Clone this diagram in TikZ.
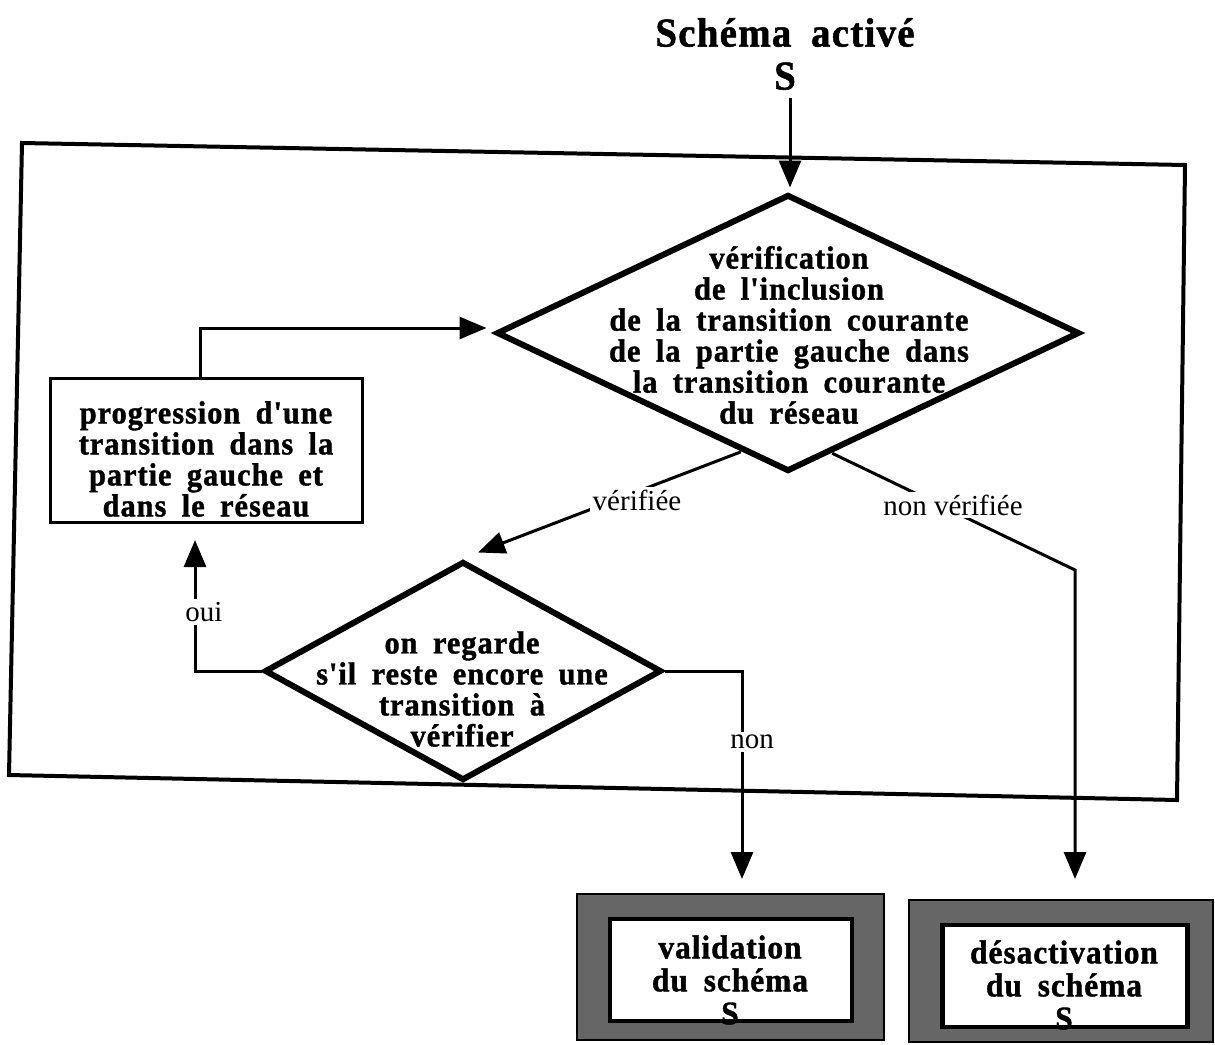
\documentclass[tikz,border=0pt]{standalone}
\usepackage{fontspec}
\setmainfont{Liberation Serif}
% tall, heavy, slightly tracked bold face for the box texts
\newfontfamily\diagfont[FakeStretch=0.95, FakeBold=1.2, LetterSpace=3, WordSpace=1.8]{Liberation Serif}
\usetikzlibrary{shapes.geometric,arrows.meta,calc}
\begin{document}
\begin{tikzpicture}[x=1pt,y=-1pt,
  boldtext/.style={font=\diagfont\bfseries\fontsize{32}{31}\selectfont, align=center, inner sep=0},
  lbl/.style={font=\fontsize{29}{31}\selectfont, inner sep=3pt, fill=white},
  conn/.style={line width=3pt, -{Triangle[length=27pt,width=22pt]}},
  decision/.style={diamond, draw, line width=6pt, inner sep=0},
  actionbox/.style={draw, line width=3pt, inner sep=0},
  endouter/.style={draw, line width=2pt, fill=black!60, inner sep=0},
  endinner/.style={draw, line width=4.5pt, fill=white, inner sep=0}
]
\useasboundingbox (0,0) rectangle (1215,1044);

% outer frame (slightly out of square)
\draw[line width=4pt, line join=miter] (22,143) -- (1185,165) -- (1177,800) -- (9,775) -- cycle;

% title
\node[boldtext, font=\diagfont\bfseries\fontsize{41}{43}\selectfont] (title) at (785,54) {Schéma activé\\S};

% main test
\node[decision, minimum width=583pt, minimum height=277pt] (bigd) at (788,333) {};
\node[boldtext] (bigtxt) at (789,335) {vérification\\de l'inclusion\\de la transition courante\\de la partie gauche dans\\la transition courante\\du réseau};

% progression box
\node[actionbox, minimum width=312pt, minimum height=144pt] (lbox) at (206,450) {};
\node[boldtext] (ltxt) at (206,459) {progression d'une\\transition dans la\\partie gauche et\\dans le réseau};

% remaining-transition test
\node[decision, minimum width=397pt, minimum height=219pt] (smalld) at (463,671) {};
\node[boldtext] (stxt) at (462,689) {on regarde\\s'il reste encore une\\transition à\\vérifier};

% terminal boxes
\node[endouter, minimum width=307pt, minimum height=146pt] (vout) at (730,967) {};
\node[endinner, minimum width=242pt, minimum height=102pt] (vbox) at (731,970) {};
\node[boldtext, font=\diagfont\bfseries\fontsize{33}{33}\selectfont] (vtxt) at (730,980) {validation\\du schéma\\S};

\node[endouter, minimum width=304pt, minimum height=142pt] (dout) at (1061,971) {};
\node[endinner, minimum width=245pt, minimum height=102pt] (dbox) at (1065,976) {};
\node[boldtext, font=\diagfont\bfseries\fontsize{33}{33}\selectfont] (dtxt) at (1064,985) {désactivation\\du schéma\\S};

% connector helper points
\coordinate (vstart) at ($(bigd.south)!0.16!(bigd.west)$);
\coordinate (vend) at ($(smalld.north)+(15,-6)$);
\coordinate (nvstart) at ($(bigd.south)!0.15!(bigd.east)$);
\coordinate (nvbend) at (1075,570);
\coordinate (ouiup) at (195,522);
\coordinate (nonbend) at (742,677);

% connectors
\draw[conn, shorten >=4pt] (title.south) ++(5,8) coordinate (tstart) -- (tstart |- bigd.north);
\draw[conn, shorten >=7pt] (lbox.north) ++(-6,0) coordinate (lstart) |- ($(bigd.west)+(0,-5)$);
\draw[conn] (vstart) -- (vend);
\draw[conn, shorten >=20pt] (nvstart) -- (nvbend) -- (nvbend |- dout.north);
\draw[conn, shorten >=18pt] (smalld.west) -| (ouiup);
\draw[conn, shorten >=14pt] (smalld.east) -| (nonbend |- vout.north);

% labels
\node[lbl] (lv) at (637,500) {vérifiée};
\node[lbl] (lnv) at (953,505) {non vérifiée};
\node[lbl] (loui) at (204,612) {oui};
\node[lbl] (lnon) at (752,742) {non};
\end{tikzpicture}
\end{document}
